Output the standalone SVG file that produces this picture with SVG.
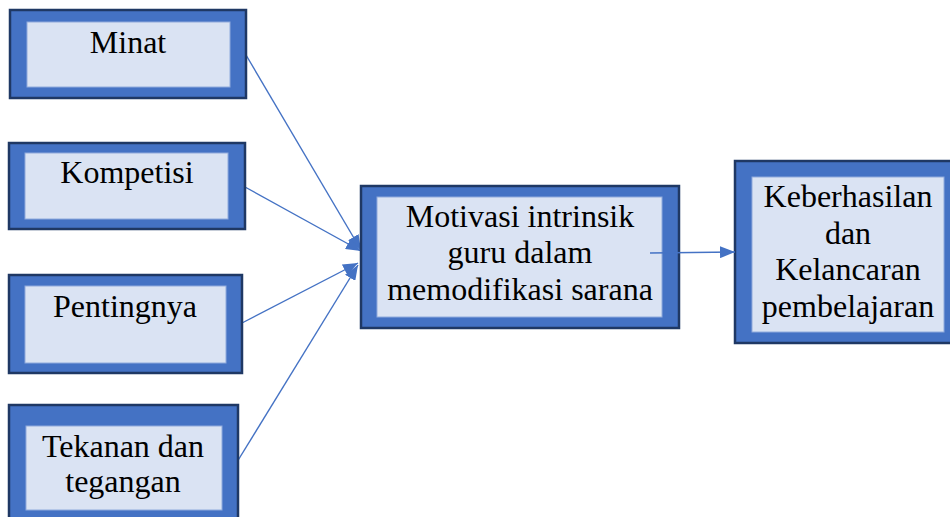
<svg xmlns="http://www.w3.org/2000/svg" width="950" height="517" viewBox="0 0 950 517">
<style>
.outer{fill:#4472C4;stroke:#1F3864;stroke-width:2.5}
.inner{fill:#DAE3F3;stroke:#8FAADC;stroke-width:1}
.t{font-family:"Liberation Serif","Times New Roman",serif;font-size:32px;fill:#000;text-anchor:middle}
.c{stroke:#4472C4;stroke-width:1.4;fill:none;marker-end:url(#ah)}
</style>
<defs>
<marker id="ah" markerUnits="userSpaceOnUse" markerWidth="16" markerHeight="12" refX="15" refY="6" orient="auto">
<path d="M0,0 L15,6 L0,12 z" fill="#4472C4"/>
</marker>
</defs>
<rect width="950" height="517" fill="#fff"/>
<g id="connectors">
<line class="c" x1="246" y1="55" x2="361" y2="250"/>
<line class="c" x1="245" y1="187" x2="361" y2="251"/>
<line class="c" x1="242" y1="323" x2="358" y2="263"/>
<line class="c" x1="237" y1="462" x2="358" y2="265"/>
</g>
<g id="minat">
<rect class="outer" x="10" y="10" width="236" height="88"/>
<rect class="inner" x="27" y="22" width="203" height="65"/>
<text class="t" x="128" y="53">Minat</text>
</g>
<g id="kompetisi">
<rect class="outer" x="9" y="143" width="236" height="86"/>
<rect class="inner" x="25" y="153" width="203" height="66"/>
<text class="t" x="127" y="183">Kompetisi</text>
</g>
<g id="pentingnya">
<rect class="outer" x="9" y="275" width="233" height="98"/>
<rect class="inner" x="25" y="286" width="201" height="77"/>
<text class="t" x="125" y="317">Pentingnya</text>
</g>
<g id="tekanan">
<rect class="outer" x="9" y="405" width="229" height="125"/>
<rect class="inner" x="26" y="426" width="196" height="84"/>
<text class="t" x="123" y="457">Tekanan dan</text>
<text class="t" x="123" y="492">tegangan</text>
</g>
<g id="motivasi">
<rect class="outer" x="361" y="186" width="318" height="142"/>
<rect class="inner" x="377" y="197" width="285" height="120"/>
<text class="t" x="520" y="227">Motivasi intrinsik</text>
<text class="t" x="520" y="263">guru dalam</text>
<text class="t" x="520" y="300">memodifikasi sarana</text>
</g>
<g id="keberhasilan">
<rect class="outer" x="735" y="161" width="220" height="182"/>
<rect class="inner" x="752" y="177" width="192" height="155"/>
<text class="t" x="848" y="207">Keberhasilan</text>
<text class="t" x="848" y="244">dan</text>
<text class="t" x="848" y="280">Kelancaran</text>
<text class="t" x="848" y="317">pembelajaran</text>
</g>
<g id="connector-out">
<line class="c" x1="650" y1="253" x2="735" y2="252"/>
</g>
</svg>
